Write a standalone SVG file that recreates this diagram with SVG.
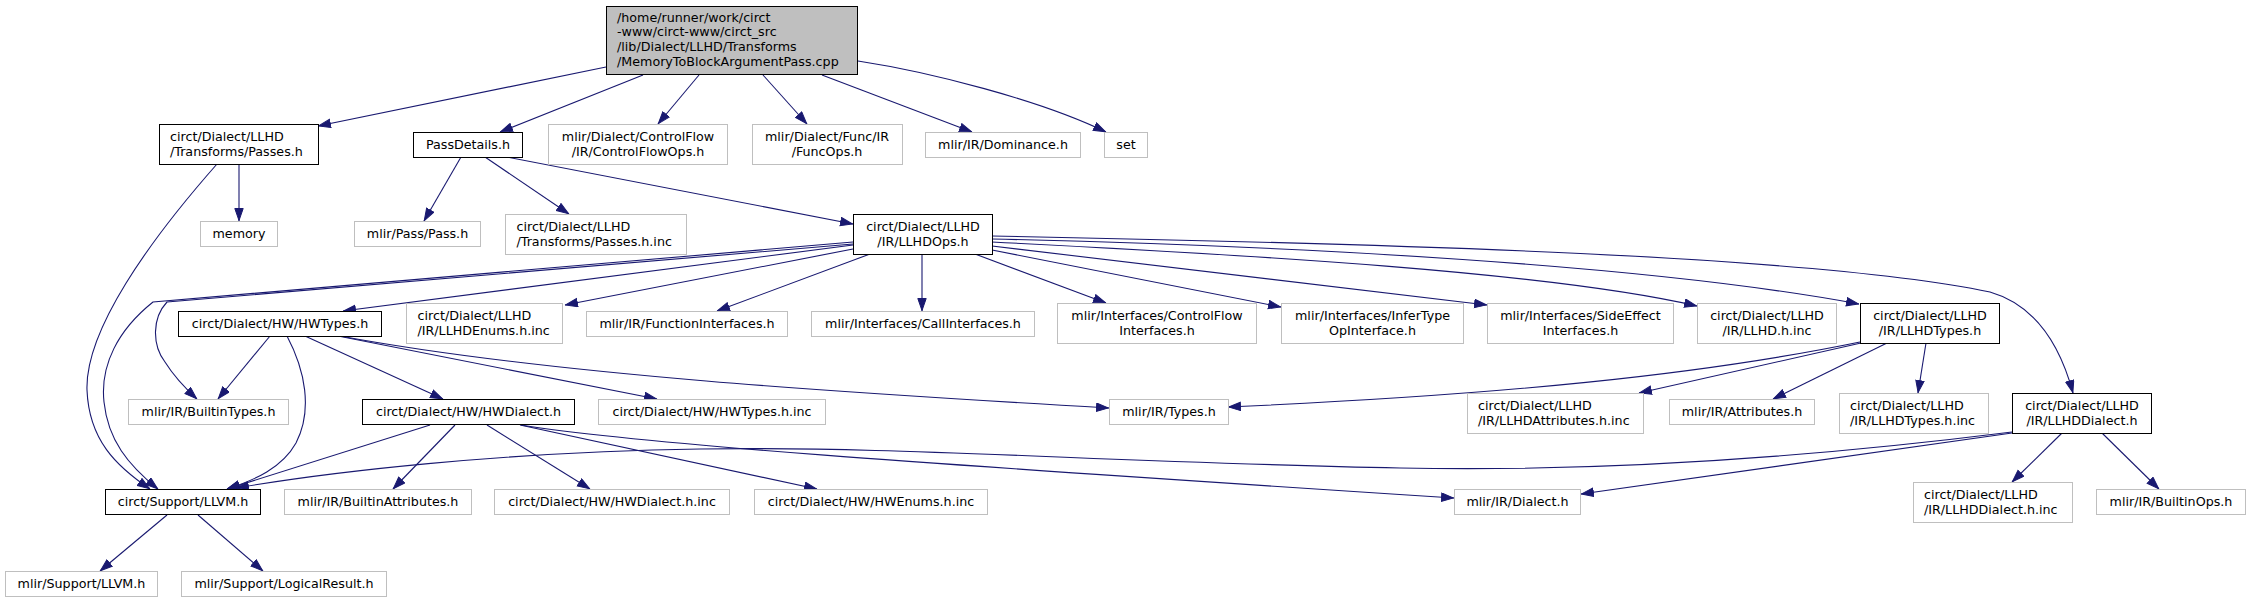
<svg xmlns="http://www.w3.org/2000/svg" width="2249" height="603" viewBox="0 0 2249 603">
<defs>
<marker id="ah" markerWidth="13" markerHeight="10" refX="13" refY="4.7" orient="auto" markerUnits="userSpaceOnUse">
<path d="M0.5,0.5 L12.5,4.7 L0.5,8.9 z" fill="#191970" stroke="#191970" stroke-width="1"/>
</marker>
</defs>
<style>
rect{fill:#fff;stroke-width:1}
.b rect{stroke:#000}
.g rect{stroke:#bfbfbf}
.r rect{fill:#bfbfbf;stroke:#000}
text{font-family:"DejaVu Sans","Liberation Sans",sans-serif;font-size:12.7px;fill:#000}
.c{text-anchor:middle}
#edges path{fill:none;stroke:#191970;stroke-width:1.1;marker-end:url(#ah)}
</style>
<rect x="0" y="0" width="2249" height="603" style="fill:#fff;stroke:none"/>
<g id="edges">
<path d="M606,67 L318,126"/>
<path d="M643,75 L500,132"/>
<path d="M699,75 L658,124"/>
<path d="M763,75 L807,124"/>
<path d="M822,75 L972,132"/>
<path d="M858,61 C930,72 1040,100 1106,132"/>
<path d="M239,164 L239,221"/>
<path d="M217,164 C150,240 85,330 87,390 C89,440 116,466 150,489"/>
<path d="M461,157 L424,221"/>
<path d="M485,157 L569,214"/>
<path d="M507,157 L853,224"/>
<path d="M853,242 L153,302 C118,330 100,365 104,402 C108,440 128,465 158,489"/>
<path d="M853,244 L167,302 C152,318 152,345 165,362 C175,378 185,388 197,399"/>
<path d="M853,245 L343,311"/>
<path d="M853,249 L565,305"/>
<path d="M870,254 L717,311"/>
<path d="M922,254 L922,311"/>
<path d="M975,254 L1106,303"/>
<path d="M992,250 L1281,307"/>
<path d="M992,246 L1487,305"/>
<path d="M992,242 C1250,255 1550,272 1697,306"/>
<path d="M992,239 C1300,246 1650,265 1859,304"/>
<path d="M992,236 C1400,244 1820,256 1990,292 C2035,305 2060,345 2073,393"/>
<path d="M270,336 L218,399"/>
<path d="M287,336 C305,370 313,410 296,443 C282,468 255,480 227,489"/>
<path d="M305,336 L443,399"/>
<path d="M338,336 L657,399"/>
<path d="M340,336 C550,375 850,393 1109,408"/>
<path d="M430,425 L227,489"/>
<path d="M455,425 L393,489"/>
<path d="M487,425 L590,489"/>
<path d="M520,425 L817,489"/>
<path d="M521,425 C640,444 900,462 1454,498"/>
<path d="M2012,432 C1750,465 1550,471 1400,468 C1100,462 900,446 700,449 C500,452 330,472 236,488"/>
<path d="M2012,433 L1581,494"/>
<path d="M2062,433 L2012,482"/>
<path d="M2102,433 L2159,489"/>
<path d="M1860,342 C1700,375 1500,395 1228,407"/>
<path d="M1861,343 L1639,393"/>
<path d="M1887,343 L1773,399"/>
<path d="M1926,343 L1918,393"/>
<path d="M167,515 L100,571"/>
<path d="M198,515 L263,571"/>
</g>
<g id="root" class="r"><rect x="606.5" y="6.5" width="251" height="68"/>
<text x="617" y="21.5">/home/runner/work/circt</text>
<text x="617" y="36.2">-www/circt-www/circt_src</text>
<text x="617" y="50.9">/lib/Dialect/LLHD/Transforms</text>
<text x="617" y="65.6">/MemoryToBlockArgumentPass.cpp</text></g>
<g id="passes" class="b"><rect x="159.5" y="124.5" width="159" height="40"/>
<text x="170" y="141">circt/Dialect/LLHD</text><text x="170" y="155.5">/Transforms/Passes.h</text></g>
<g id="passdetails" class="b"><rect x="413.5" y="132.5" width="109" height="25"/>
<text class="c" x="468" y="149">PassDetails.h</text></g>
<g id="cfops" class="g"><rect x="548.5" y="124.5" width="179" height="40"/>
<text class="c" x="638" y="141">mlir/Dialect/ControlFlow</text><text class="c" x="638" y="155.5">/IR/ControlFlowOps.h</text></g>
<g id="funcops" class="g"><rect x="752.5" y="124.5" width="150" height="40"/>
<text class="c" x="827" y="141">mlir/Dialect/Func/IR</text><text class="c" x="827" y="155.5">/FuncOps.h</text></g>
<g id="dominance" class="g"><rect x="925.5" y="132.5" width="155" height="25"/>
<text class="c" x="1003" y="149">mlir/IR/Dominance.h</text></g>
<g id="set" class="g"><rect x="1104.5" y="132.5" width="43" height="25"/>
<text class="c" x="1126" y="149">set</text></g>
<g id="memory" class="g"><rect x="200.5" y="221.5" width="77" height="25"/>
<text class="c" x="239" y="238">memory</text></g>
<g id="pass" class="g"><rect x="354.5" y="221.5" width="126" height="25"/>
<text class="c" x="417.5" y="238">mlir/Pass/Pass.h</text></g>
<g id="passesinc" class="g"><rect x="505.5" y="214.5" width="181" height="40"/>
<text x="516.5" y="231">circt/Dialect/LLHD</text><text x="516.5" y="245.5">/Transforms/Passes.h.inc</text></g>
<g id="llhdops" class="b"><rect x="853.5" y="214.5" width="139" height="40"/>
<text class="c" x="923" y="231">circt/Dialect/LLHD</text><text class="c" x="923" y="245.5">/IR/LLHDOps.h</text></g>
<g id="hwtypes" class="b"><rect x="178.5" y="311.5" width="203" height="25"/>
<text class="c" x="280" y="328">circt/Dialect/HW/HWTypes.h</text></g>
<g id="llhdenums" class="g"><rect x="406.5" y="303.5" width="156" height="40"/>
<text x="417.5" y="320">circt/Dialect/LLHD</text><text x="417.5" y="334.5">/IR/LLHDEnums.h.inc</text></g>
<g id="funcif" class="g"><rect x="586.5" y="311.5" width="201" height="25"/>
<text class="c" x="687" y="328">mlir/IR/FunctionInterfaces.h</text></g>
<g id="callif" class="g"><rect x="811.5" y="311.5" width="223" height="25"/>
<text class="c" x="923" y="328">mlir/Interfaces/CallInterfaces.h</text></g>
<g id="cfif" class="g"><rect x="1057.5" y="303.5" width="199" height="40"/>
<text class="c" x="1157" y="320">mlir/Interfaces/ControlFlow</text><text class="c" x="1157" y="334.5">Interfaces.h</text></g>
<g id="infer" class="g"><rect x="1281.5" y="303.5" width="182" height="40"/>
<text class="c" x="1372.5" y="320">mlir/Interfaces/InferType</text><text class="c" x="1372.5" y="334.5">OpInterface.h</text></g>
<g id="sideeffect" class="g"><rect x="1487.5" y="303.5" width="186" height="40"/>
<text class="c" x="1580.5" y="320">mlir/Interfaces/SideEffect</text><text class="c" x="1580.5" y="334.5">Interfaces.h</text></g>
<g id="llhdinc" class="g"><rect x="1697.5" y="303.5" width="139" height="40"/>
<text class="c" x="1767" y="320">circt/Dialect/LLHD</text><text class="c" x="1767" y="334.5">/IR/LLHD.h.inc</text></g>
<g id="llhdtypes" class="b"><rect x="1860.5" y="303.5" width="139" height="40"/>
<text class="c" x="1930" y="320">circt/Dialect/LLHD</text><text class="c" x="1930" y="334.5">/IR/LLHDTypes.h</text></g>
<g id="builtintypes" class="g"><rect x="128.5" y="399.5" width="160" height="25"/>
<text class="c" x="208.5" y="416">mlir/IR/BuiltinTypes.h</text></g>
<g id="hwdialect" class="b"><rect x="362.5" y="399.5" width="212" height="25"/>
<text class="c" x="468.5" y="416">circt/Dialect/HW/HWDialect.h</text></g>
<g id="hwtypesinc" class="g"><rect x="598.5" y="399.5" width="227" height="25"/>
<text class="c" x="712" y="416">circt/Dialect/HW/HWTypes.h.inc</text></g>
<g id="types" class="g"><rect x="1109.5" y="399.5" width="119" height="25"/>
<text class="c" x="1169" y="416">mlir/IR/Types.h</text></g>
<g id="llhdattr" class="g"><rect x="1467.5" y="393.5" width="176" height="40"/>
<text x="1478" y="410">circt/Dialect/LLHD</text><text x="1478" y="424.5">/IR/LLHDAttributes.h.inc</text></g>
<g id="attributes" class="g"><rect x="1669.5" y="399.5" width="145" height="25"/>
<text class="c" x="1742" y="416">mlir/IR/Attributes.h</text></g>
<g id="llhdtypesinc" class="g"><rect x="1839.5" y="393.5" width="149" height="40"/>
<text x="1850" y="410">circt/Dialect/LLHD</text><text x="1850" y="424.5">/IR/LLHDTypes.h.inc</text></g>
<g id="llhddialect" class="b"><rect x="2012.5" y="393.5" width="139" height="40"/>
<text class="c" x="2082" y="410">circt/Dialect/LLHD</text><text class="c" x="2082" y="424.5">/IR/LLHDDialect.h</text></g>
<g id="llvm" class="b"><rect x="105.5" y="489.5" width="155" height="25"/>
<text class="c" x="183" y="506">circt/Support/LLVM.h</text></g>
<g id="builtinattr" class="g"><rect x="284.5" y="489.5" width="187" height="25"/>
<text class="c" x="378" y="506">mlir/IR/BuiltinAttributes.h</text></g>
<g id="hwdialectinc" class="g"><rect x="494.5" y="489.5" width="235" height="25"/>
<text class="c" x="612" y="506">circt/Dialect/HW/HWDialect.h.inc</text></g>
<g id="hwenums" class="g"><rect x="754.5" y="489.5" width="233" height="25"/>
<text class="c" x="871" y="506">circt/Dialect/HW/HWEnums.h.inc</text></g>
<g id="dialect" class="g"><rect x="1454.5" y="489.5" width="126" height="25"/>
<text class="c" x="1517.5" y="506">mlir/IR/Dialect.h</text></g>
<g id="llhddialectinc" class="g"><rect x="1913.5" y="482.5" width="159" height="40"/>
<text x="1924" y="499">circt/Dialect/LLHD</text><text x="1924" y="513.5">/IR/LLHDDialect.h.inc</text></g>
<g id="builtinops" class="g"><rect x="2096.5" y="489.5" width="149" height="25"/>
<text class="c" x="2171" y="506">mlir/IR/BuiltinOps.h</text></g>
<g id="mlirllvm" class="g"><rect x="5.5" y="571.5" width="152" height="25"/>
<text class="c" x="81.5" y="588">mlir/Support/LLVM.h</text></g>
<g id="logical" class="g"><rect x="181.5" y="571.5" width="205" height="25"/>
<text class="c" x="284" y="588">mlir/Support/LogicalResult.h</text></g>
</svg>
